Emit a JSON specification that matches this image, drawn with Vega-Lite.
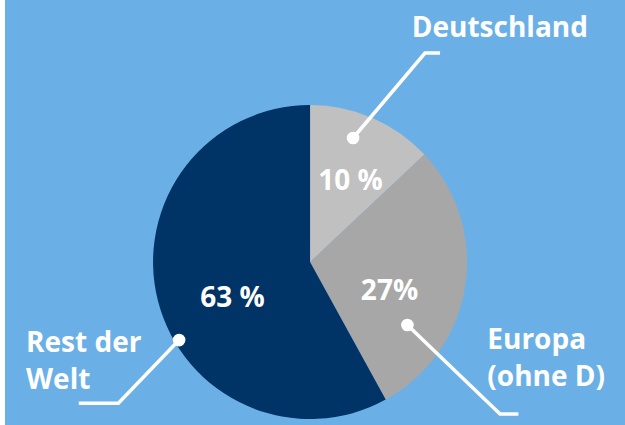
{
  "$schema": "https://vega.github.io/schema/vega-lite/v6.json",
  "width": 625,
  "height": 425,
  "autosize": {"type": "fit", "contains": "padding"},
  "padding": {"left": 5, "top": 0, "right": 0, "bottom": 0},
  "background": "white",
  "view": {"fill": "#6AB0E6", "stroke": null},
  "config": {"font": "Open Sans"},
  "datasets": {
    "slices": [
      {"region": "Deutschland", "share": 13},
      {"region": "Europa (ohne D)", "share": 29},
      {"region": "Rest der Welt", "share": 58}
    ],
    "leaders": [
      {"label": "Deutschland", "step": 1, "x": 0.274, "y": 0.790},
      {"label": "Deutschland", "step": 2, "x": 0.732, "y": 1.331},
      {"label": "Deutschland", "step": 3, "x": 0.828, "y": 1.331},
      {"label": "Europa", "step": 1, "x": 0.620, "y": -0.401},
      {"label": "Europa", "step": 2, "x": 1.210, "y": -0.968},
      {"label": "Europa", "step": 3, "x": 1.327, "y": -0.968},
      {"label": "Rest", "step": 1, "x": -0.834, "y": -0.497},
      {"label": "Rest", "step": 2, "x": -1.221, "y": -0.900},
      {"label": "Rest", "step": 3, "x": -1.473, "y": -0.900}
    ],
    "names": [
      {"text": "Deutschland", "x": 0.648, "y": 1.431},
      {"text": "Europa\n(ohne D)", "x": 1.129, "y": -0.554},
      {"text": "Rest der\nWelt", "x": -1.809, "y": -0.573}
    ],
    "percents": [
      {"text": "10 %", "x": 0.258, "y": 0.459},
      {"text": "27%", "x": 0.506, "y": -0.242},
      {"text": "63 %", "x": -0.494, "y": -0.287}
    ]
  },
  "layer": [
    {
      "data": {"name": "slices"},
      "mark": {"type": "arc", "outerRadius": 157},
      "encoding": {
        "theta": {"field": "share", "type": "quantitative", "stack": true},
        "color": {
          "field": "region",
          "type": "nominal",
          "scale": {"domain": ["Deutschland", "Europa (ohne D)", "Rest der Welt"], "range": ["#C0C0C0", "#A7A7A7", "#003366"]},
          "legend": null
        },
        "order": {"field": "region", "type": "ordinal", "sort": "ascending"},
        "x": {"datum": 0, "type": "quantitative", "scale": {"domain": [-1.943, 2.006], "nice": false, "zero": false}, "axis": null},
        "y": {"datum": 0, "type": "quantitative", "scale": {"domain": [-1.038, 1.669], "nice": false, "zero": false}, "axis": null}
      }
    },
    {
      "data": {"name": "leaders"},
      "mark": {"type": "line", "color": "white", "strokeWidth": 3.5, "strokeCap": "butt", "strokeJoin": "miter"},
      "encoding": {
        "x": {"field": "x", "type": "quantitative"},
        "y": {"field": "y", "type": "quantitative"},
        "detail": {"field": "label"},
        "order": {"field": "step", "type": "quantitative"}
      }
    },
    {
      "data": {"name": "leaders"},
      "transform": [{"filter": "datum.step == 1"}],
      "mark": {"type": "point", "filled": true, "color": "white", "opacity": 1, "size": 160, "shape": "circle"},
      "encoding": {
        "x": {"field": "x", "type": "quantitative"},
        "y": {"field": "y", "type": "quantitative"}
      }
    },
    {
      "data": {"name": "names"},
      "mark": {"type": "text", "color": "white", "fontWeight": "bold", "fontSize": 28, "align": "left", "baseline": "alphabetic", "lineBreak": "\n", "lineHeight": 37},
      "encoding": {
        "x": {"field": "x", "type": "quantitative"},
        "y": {"field": "y", "type": "quantitative"},
        "text": {"field": "text"}
      }
    },
    {
      "data": {"name": "percents"},
      "mark": {"type": "text", "color": "white", "fontWeight": "bold", "fontSize": 28, "align": "center", "baseline": "alphabetic"},
      "encoding": {
        "x": {"field": "x", "type": "quantitative"},
        "y": {"field": "y", "type": "quantitative"},
        "text": {"field": "text"}
      }
    }
  ]
}
